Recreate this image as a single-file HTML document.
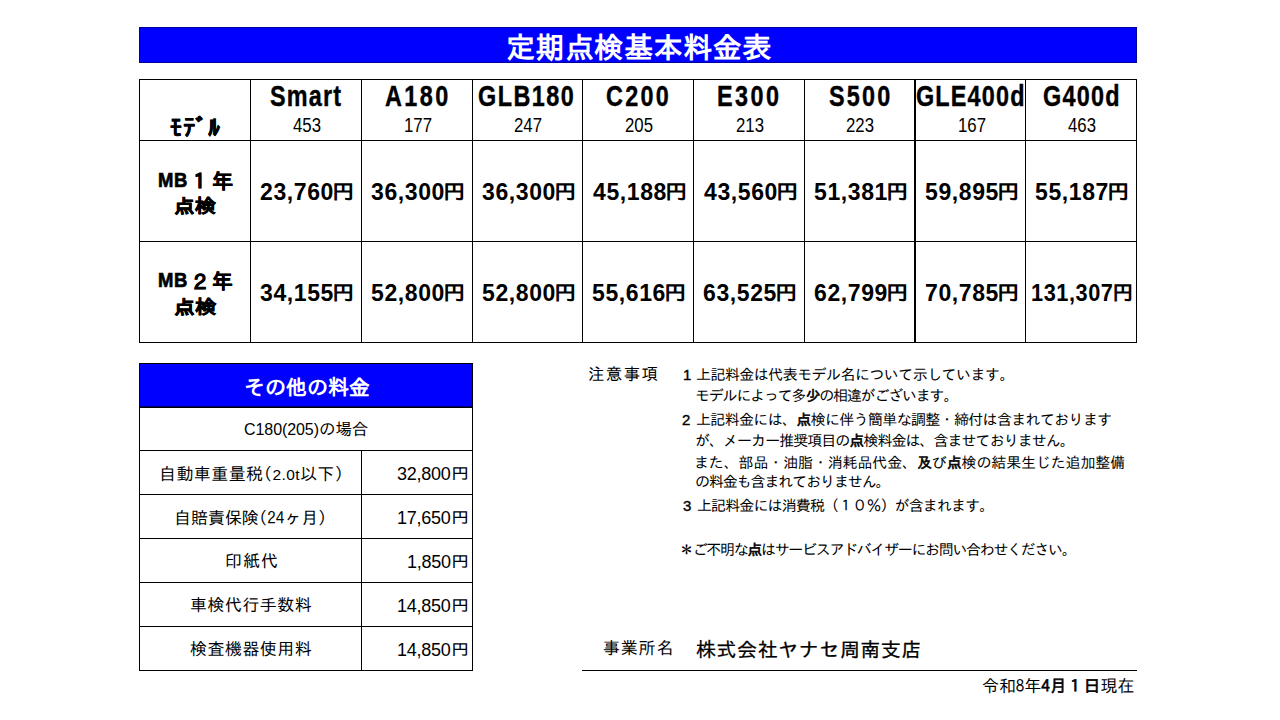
<!DOCTYPE html>
<html lang="ja">
<head>
<meta charset="utf-8">
<title>定期点検基本料金表</title>
<style>
*{margin:0;padding:0;box-sizing:border-box}
html,body{width:1280px;height:720px;background:#fff;overflow:hidden}
body{position:relative;color:#000;font-family:"IPAGothic","Liberation Sans",sans-serif}
.t{position:absolute;white-space:nowrap}
.h{position:absolute;height:1px;background:#000}
.v{position:absolute;width:1px;background:#000}
.bar{position:absolute;background:#0000ff}
</style>
</head>
<body>
<div class="bar" style="left:139px;top:27px;width:998px;height:36px;border:1px solid #00009a"></div>
<div class="h" style="left:139px;top:79px;width:998px"></div>
<div class="h" style="left:139px;top:140px;width:998px"></div>
<div class="h" style="left:139px;top:241px;width:998px"></div>
<div class="h" style="left:139px;top:342px;width:998px"></div>
<div class="v" style="left:139px;top:79px;height:264px"></div>
<div class="v" style="left:250px;top:79px;height:264px"></div>
<div class="v" style="left:361px;top:79px;height:264px"></div>
<div class="v" style="left:472px;top:79px;height:264px"></div>
<div class="v" style="left:582px;top:79px;height:264px"></div>
<div class="v" style="left:693px;top:79px;height:264px"></div>
<div class="v" style="left:804px;top:79px;height:264px"></div>
<div class="v" style="left:1025px;top:79px;height:264px"></div>
<div class="v" style="left:1136px;top:79px;height:264px"></div>
<div class="v" style="left:914px;top:79px;height:264px;width:2px"></div>
<div class="bar" style="left:139px;top:363px;width:334px;height:44px;border:1px solid #000;border-bottom-color:#000070"></div>
<div class="h" style="left:139px;top:407px;width:334px"></div>
<div class="h" style="left:139px;top:450px;width:334px"></div>
<div class="h" style="left:139px;top:494px;width:334px"></div>
<div class="h" style="left:139px;top:538px;width:334px"></div>
<div class="h" style="left:139px;top:582px;width:334px"></div>
<div class="h" style="left:139px;top:626px;width:334px"></div>
<div class="h" style="left:139px;top:670px;width:334px"></div>
<div class="v" style="left:139px;top:363px;height:308px"></div>
<div class="v" style="left:472px;top:363px;height:308px"></div>
<div class="v" style="left:361px;top:450px;height:221px"></div>
<div class="h" style="left:582px;top:670px;width:555px"></div>
<div class="t" style='left:506px;top:32px;font-family:"IPAGothic","Noto Sans CJK JP",sans-serif;font-weight:bold;font-size:29px;line-height:29px;color:#fff;letter-spacing:0.525px;'>定期点検基本料金表</div>
<div class="t" style='left:270px;top:81px;font-family:"Liberation Sans","IPAGothic",sans-serif;font-weight:bold;font-size:30px;line-height:30px;-webkit-text-stroke:0.4px currentColor;letter-spacing:1.474px;transform:scaleX(0.78);transform-origin:0 0;'>Smart</div>
<div class="t" style='left:385px;top:81px;font-family:"Liberation Sans","IPAGothic",sans-serif;font-weight:bold;font-size:30px;line-height:30px;-webkit-text-stroke:0.4px currentColor;letter-spacing:3.077px;transform:scaleX(0.78);transform-origin:0 0;'>A180</div>
<div class="t" style='left:478px;top:81px;font-family:"Liberation Sans","IPAGothic",sans-serif;font-weight:bold;font-size:30px;line-height:30px;-webkit-text-stroke:0.4px currentColor;letter-spacing:1.897px;transform:scaleX(0.78);transform-origin:0 0;'>GLB180</div>
<div class="t" style='left:606px;top:81px;font-family:"Liberation Sans","IPAGothic",sans-serif;font-weight:bold;font-size:30px;line-height:30px;-webkit-text-stroke:0.4px currentColor;letter-spacing:2.906px;transform:scaleX(0.78);transform-origin:0 0;'>C200</div>
<div class="t" style='left:717px;top:81px;font-family:"Liberation Sans","IPAGothic",sans-serif;font-weight:bold;font-size:30px;line-height:30px;-webkit-text-stroke:0.4px currentColor;letter-spacing:3.162px;transform:scaleX(0.78);transform-origin:0 0;'>E300</div>
<div class="t" style='left:829px;top:81px;font-family:"Liberation Sans","IPAGothic",sans-serif;font-weight:bold;font-size:30px;line-height:30px;-webkit-text-stroke:0.4px currentColor;letter-spacing:2.821px;transform:scaleX(0.78);transform-origin:0 0;'>S500</div>
<div class="t" style='left:916px;top:81px;font-family:"Liberation Sans","IPAGothic",sans-serif;font-weight:bold;font-size:30px;line-height:30px;-webkit-text-stroke:0.4px currentColor;letter-spacing:1.496px;transform:scaleX(0.78);transform-origin:0 0;'>GLE400d</div>
<div class="t" style='left:1043px;top:81px;font-family:"Liberation Sans","IPAGothic",sans-serif;font-weight:bold;font-size:30px;line-height:30px;-webkit-text-stroke:0.4px currentColor;letter-spacing:1.603px;transform:scaleX(0.78);transform-origin:0 0;'>G400d</div>
<div class="t" style='left:293px;top:116px;font-family:"Liberation Sans","IPAGothic",sans-serif;font-size:19.5px;line-height:19px;transform:scaleX(0.86);transform-origin:0 0;'>453</div>
<div class="t" style='left:404px;top:116px;font-family:"Liberation Sans","IPAGothic",sans-serif;font-size:19.5px;line-height:19px;transform:scaleX(0.86);transform-origin:0 0;'>177</div>
<div class="t" style='left:514px;top:116px;font-family:"Liberation Sans","IPAGothic",sans-serif;font-size:19.5px;line-height:19px;transform:scaleX(0.86);transform-origin:0 0;'>247</div>
<div class="t" style='left:625px;top:116px;font-family:"Liberation Sans","IPAGothic",sans-serif;font-size:19.5px;line-height:19px;transform:scaleX(0.86);transform-origin:0 0;'>205</div>
<div class="t" style='left:736px;top:116px;font-family:"Liberation Sans","IPAGothic",sans-serif;font-size:19.5px;line-height:19px;transform:scaleX(0.86);transform-origin:0 0;'>213</div>
<div class="t" style='left:846px;top:116px;font-family:"Liberation Sans","IPAGothic",sans-serif;font-size:19.5px;line-height:19px;transform:scaleX(0.86);transform-origin:0 0;'>223</div>
<div class="t" style='left:958px;top:116px;font-family:"Liberation Sans","IPAGothic",sans-serif;font-size:19.5px;line-height:19px;transform:scaleX(0.86);transform-origin:0 0;'>167</div>
<div class="t" style='left:1068px;top:116px;font-family:"Liberation Sans","IPAGothic",sans-serif;font-size:19.5px;line-height:19px;transform:scaleX(0.86);transform-origin:0 0;'>463</div>
<div class="t" style='left:170px;top:115px;font-family:"IPAGothic","Noto Sans CJK JP",sans-serif;font-weight:bold;font-size:24px;line-height:24px;-webkit-text-stroke:0.2px currentColor;letter-spacing:1.133px;'>ﾓﾃﾞﾙ</div>
<div class="t" style='left:158px;top:169px;font-family:"Liberation Sans","IPAGothic",sans-serif;font-weight:bold;font-size:21px;line-height:21px;-webkit-text-stroke:0.7px currentColor;letter-spacing:0.682px;transform:scaleX(0.88);transform-origin:0 0;'>MB</div>
<div class="t" style='left:158px;top:269px;font-family:"Liberation Sans","IPAGothic",sans-serif;font-weight:bold;font-size:21px;line-height:21px;-webkit-text-stroke:0.7px currentColor;letter-spacing:0.682px;transform:scaleX(0.88);transform-origin:0 0;'>MB</div>
<div class="t" style='left:189px;top:171px;font-family:"IPAGothic","Noto Sans CJK JP",sans-serif;font-weight:bold;font-size:21px;line-height:21px;-webkit-text-stroke:0.5px currentColor;'>１</div>
<div class="t" style='left:190px;top:272px;font-family:"IPAGothic","Noto Sans CJK JP",sans-serif;font-weight:bold;font-size:21px;line-height:21px;-webkit-text-stroke:0.5px currentColor;transform:scaleX(0.9541);transform-origin:0 0;'>２</div>
<div class="t" style='left:212px;top:171px;font-family:"IPAGothic","Noto Sans CJK JP",sans-serif;font-weight:bold;font-size:21px;line-height:21px;-webkit-text-stroke:0.5px currentColor;transform:scaleX(1.0007);transform-origin:0 0;'>年</div>
<div class="t" style='left:212px;top:271px;font-family:"IPAGothic","Noto Sans CJK JP",sans-serif;font-weight:bold;font-size:21px;line-height:21px;-webkit-text-stroke:0.5px currentColor;transform:scaleX(0.9802);transform-origin:0 0;'>年</div>
<div class="t" style='left:174px;top:196px;font-family:"IPAGothic","Noto Sans CJK JP",sans-serif;font-weight:bold;font-size:19px;line-height:19px;-webkit-text-stroke:0.5px currentColor;transform:scaleX(1.1081);transform-origin:0 0;'>点検</div>
<div class="t" style='left:174px;top:297px;font-family:"IPAGothic","Noto Sans CJK JP",sans-serif;font-weight:bold;font-size:19px;line-height:19px;-webkit-text-stroke:0.5px currentColor;transform:scaleX(1.1189);transform-origin:0 0;'>点検</div>
<div class="t" style='left:260px;top:177px;font-weight:bold;font-size:23px;line-height:30px;'><span style="font-family:'Liberation Sans','IPAGothic',sans-serif;letter-spacing:0.6px">23,760</span><span style="font-family:'IPAGothic','Noto Sans CJK JP',sans-serif;font-size:20.5px;display:inline-block;transform:scaleX(1.1);transform-origin:0 100%;margin-left:-1.5px;margin-right:2px;position:relative;top:-1.5px">円</span></div>
<div class="t" style='left:371px;top:177px;font-weight:bold;font-size:23px;line-height:30px;'><span style="font-family:'Liberation Sans','IPAGothic',sans-serif;letter-spacing:0.6px">36,300</span><span style="font-family:'IPAGothic','Noto Sans CJK JP',sans-serif;font-size:20.5px;display:inline-block;transform:scaleX(1.1);transform-origin:0 100%;margin-left:-1.5px;margin-right:2px;position:relative;top:-1.5px">円</span></div>
<div class="t" style='left:482px;top:177px;font-weight:bold;font-size:23px;line-height:30px;'><span style="font-family:'Liberation Sans','IPAGothic',sans-serif;letter-spacing:0.6px">36,300</span><span style="font-family:'IPAGothic','Noto Sans CJK JP',sans-serif;font-size:20.5px;display:inline-block;transform:scaleX(1.1);transform-origin:0 100%;margin-left:-1.5px;margin-right:2px;position:relative;top:-1.5px">円</span></div>
<div class="t" style='left:593px;top:177px;font-weight:bold;font-size:23px;line-height:30px;'><span style="font-family:'Liberation Sans','IPAGothic',sans-serif;letter-spacing:0.6px">45,188</span><span style="font-family:'IPAGothic','Noto Sans CJK JP',sans-serif;font-size:20.5px;display:inline-block;transform:scaleX(1.1);transform-origin:0 100%;margin-left:-1.5px;margin-right:2px;position:relative;top:-1.5px">円</span></div>
<div class="t" style='left:704px;top:177px;font-weight:bold;font-size:23px;line-height:30px;'><span style="font-family:'Liberation Sans','IPAGothic',sans-serif;letter-spacing:0.6px">43,560</span><span style="font-family:'IPAGothic','Noto Sans CJK JP',sans-serif;font-size:20.5px;display:inline-block;transform:scaleX(1.1);transform-origin:0 100%;margin-left:-1.5px;margin-right:2px;position:relative;top:-1.5px">円</span></div>
<div class="t" style='left:814px;top:177px;font-weight:bold;font-size:23px;line-height:30px;'><span style="font-family:'Liberation Sans','IPAGothic',sans-serif;letter-spacing:0.6px">51,381</span><span style="font-family:'IPAGothic','Noto Sans CJK JP',sans-serif;font-size:20.5px;display:inline-block;transform:scaleX(1.1);transform-origin:0 100%;margin-left:-1.5px;margin-right:2px;position:relative;top:-1.5px">円</span></div>
<div class="t" style='left:925px;top:177px;font-weight:bold;font-size:23px;line-height:30px;'><span style="font-family:'Liberation Sans','IPAGothic',sans-serif;letter-spacing:0.6px">59,895</span><span style="font-family:'IPAGothic','Noto Sans CJK JP',sans-serif;font-size:20.5px;display:inline-block;transform:scaleX(1.1);transform-origin:0 100%;margin-left:-1.5px;margin-right:2px;position:relative;top:-1.5px">円</span></div>
<div class="t" style='left:1035px;top:177px;font-weight:bold;font-size:23px;line-height:30px;'><span style="font-family:'Liberation Sans','IPAGothic',sans-serif;letter-spacing:0.6px">55,187</span><span style="font-family:'IPAGothic','Noto Sans CJK JP',sans-serif;font-size:20.5px;display:inline-block;transform:scaleX(1.1);transform-origin:0 100%;margin-left:-1.5px;margin-right:2px;position:relative;top:-1.5px">円</span></div>
<div class="t" style='left:260px;top:278px;font-weight:bold;font-size:23px;line-height:30px;'><span style="font-family:'Liberation Sans','IPAGothic',sans-serif;letter-spacing:0.6px">34,155</span><span style="font-family:'IPAGothic','Noto Sans CJK JP',sans-serif;font-size:20.5px;display:inline-block;transform:scaleX(1.1);transform-origin:0 100%;margin-left:-1.5px;margin-right:2px;position:relative;top:-1.5px">円</span></div>
<div class="t" style='left:371px;top:278px;font-weight:bold;font-size:23px;line-height:30px;'><span style="font-family:'Liberation Sans','IPAGothic',sans-serif;letter-spacing:0.6px">52,800</span><span style="font-family:'IPAGothic','Noto Sans CJK JP',sans-serif;font-size:20.5px;display:inline-block;transform:scaleX(1.1);transform-origin:0 100%;margin-left:-1.5px;margin-right:2px;position:relative;top:-1.5px">円</span></div>
<div class="t" style='left:482px;top:278px;font-weight:bold;font-size:23px;line-height:30px;'><span style="font-family:'Liberation Sans','IPAGothic',sans-serif;letter-spacing:0.6px">52,800</span><span style="font-family:'IPAGothic','Noto Sans CJK JP',sans-serif;font-size:20.5px;display:inline-block;transform:scaleX(1.1);transform-origin:0 100%;margin-left:-1.5px;margin-right:2px;position:relative;top:-1.5px">円</span></div>
<div class="t" style='left:592px;top:278px;font-weight:bold;font-size:23px;line-height:30px;'><span style="font-family:'Liberation Sans','IPAGothic',sans-serif;letter-spacing:0.6px">55,616</span><span style="font-family:'IPAGothic','Noto Sans CJK JP',sans-serif;font-size:20.5px;display:inline-block;transform:scaleX(1.1);transform-origin:0 100%;margin-left:-1.5px;margin-right:2px;position:relative;top:-1.5px">円</span></div>
<div class="t" style='left:703px;top:278px;font-weight:bold;font-size:23px;line-height:30px;'><span style="font-family:'Liberation Sans','IPAGothic',sans-serif;letter-spacing:0.6px">63,525</span><span style="font-family:'IPAGothic','Noto Sans CJK JP',sans-serif;font-size:20.5px;display:inline-block;transform:scaleX(1.1);transform-origin:0 100%;margin-left:-1.5px;margin-right:2px;position:relative;top:-1.5px">円</span></div>
<div class="t" style='left:814px;top:278px;font-weight:bold;font-size:23px;line-height:30px;'><span style="font-family:'Liberation Sans','IPAGothic',sans-serif;letter-spacing:0.6px">62,799</span><span style="font-family:'IPAGothic','Noto Sans CJK JP',sans-serif;font-size:20.5px;display:inline-block;transform:scaleX(1.1);transform-origin:0 100%;margin-left:-1.5px;margin-right:2px;position:relative;top:-1.5px">円</span></div>
<div class="t" style='left:925px;top:278px;font-weight:bold;font-size:23px;line-height:30px;'><span style="font-family:'Liberation Sans','IPAGothic',sans-serif;letter-spacing:0.6px">70,785</span><span style="font-family:'IPAGothic','Noto Sans CJK JP',sans-serif;font-size:20.5px;display:inline-block;transform:scaleX(1.1);transform-origin:0 100%;margin-left:-1.5px;margin-right:2px;position:relative;top:-1.5px">円</span></div>
<div class="t" style='left:1031px;top:278px;font-weight:bold;font-size:23px;line-height:30px;transform:scaleX(0.9448);transform-origin:0 0;'><span style="font-family:'Liberation Sans','IPAGothic',sans-serif;letter-spacing:0.6px">131,307</span><span style="font-family:'IPAGothic','Noto Sans CJK JP',sans-serif;font-size:20.5px;display:inline-block;transform:scaleX(1.1);transform-origin:0 100%;margin-left:-1.5px;margin-right:2px;position:relative;top:-1.5px">円</span></div>
<div class="t" style='left:244px;top:377px;font-family:"IPAGothic","Noto Sans CJK JP",sans-serif;font-weight:bold;font-size:21px;line-height:21px;color:#fff;'>その他の料金</div>
<div class="t" style='left:244px;top:420px;font-family:"IPAGothic","Noto Sans CJK JP",sans-serif;font-size:16.5px;line-height:17px;letter-spacing:-0.073px;'><span style="font-family:'Liberation Sans','IPAGothic',sans-serif;font-size:16px">C180(205)</span>の場合</div>
<div class="t" style='left:159px;top:465px;font-family:"IPAGothic","Noto Sans CJK JP",sans-serif;font-size:17px;line-height:17px;letter-spacing:0.415px;'>自動車重量税(<span style="font-family:'Liberation Sans','IPAGothic',sans-serif;font-size:15.5px">2.0t</span>以下)</div>
<div class="t" style='left:174px;top:509px;font-family:"IPAGothic","Noto Sans CJK JP",sans-serif;font-size:17px;line-height:17px;letter-spacing:-0.04px;'>自賠責保険(24ヶ月)</div>
<div class="t" style='left:225px;top:552px;font-family:"IPAGothic","Noto Sans CJK JP",sans-serif;font-size:17px;line-height:17px;letter-spacing:1.0px;'>印紙代</div>
<div class="t" style='left:190px;top:596px;font-family:"IPAGothic","Noto Sans CJK JP",sans-serif;font-size:17px;line-height:17px;letter-spacing:0.467px;'>車検代行手数料</div>
<div class="t" style='left:190px;top:640px;font-family:"IPAGothic","Noto Sans CJK JP",sans-serif;font-size:17px;line-height:17px;letter-spacing:0.467px;'>検査機器使用料</div>
<div class="t" style='left:397px;top:461px;font-size:18px;line-height:24px;'><span style="font-family:'Liberation Sans','IPAGothic',sans-serif;letter-spacing:-0.25px">32,800</span><span style="font-family:'IPAGothic','Noto Sans CJK JP',sans-serif;font-size:15.5px;display:inline-block;transform:scaleX(1.18);transform-origin:0 100%;margin-left:0.5px;margin-right:2px;position:relative;top:-1.5px">円</span></div>
<div class="t" style='left:397px;top:505px;font-size:18px;line-height:24px;'><span style="font-family:'Liberation Sans','IPAGothic',sans-serif;letter-spacing:-0.25px">17,650</span><span style="font-family:'IPAGothic','Noto Sans CJK JP',sans-serif;font-size:15.5px;display:inline-block;transform:scaleX(1.18);transform-origin:0 100%;margin-left:0.5px;margin-right:2px;position:relative;top:-1.5px">円</span></div>
<div class="t" style='left:407px;top:549px;font-size:18px;line-height:24px;'><span style="font-family:'Liberation Sans','IPAGothic',sans-serif;letter-spacing:-0.25px">1,850</span><span style="font-family:'IPAGothic','Noto Sans CJK JP',sans-serif;font-size:15.5px;display:inline-block;transform:scaleX(1.18);transform-origin:0 100%;margin-left:0.5px;margin-right:2px;position:relative;top:-1.5px">円</span></div>
<div class="t" style='left:397px;top:593px;font-size:18px;line-height:24px;'><span style="font-family:'Liberation Sans','IPAGothic',sans-serif;letter-spacing:-0.25px">14,850</span><span style="font-family:'IPAGothic','Noto Sans CJK JP',sans-serif;font-size:15.5px;display:inline-block;transform:scaleX(1.18);transform-origin:0 100%;margin-left:0.5px;margin-right:2px;position:relative;top:-1.5px">円</span></div>
<div class="t" style='left:397px;top:637px;font-size:18px;line-height:24px;'><span style="font-family:'Liberation Sans','IPAGothic',sans-serif;letter-spacing:-0.25px">14,850</span><span style="font-family:'IPAGothic','Noto Sans CJK JP',sans-serif;font-size:15.5px;display:inline-block;transform:scaleX(1.18);transform-origin:0 100%;margin-left:0.5px;margin-right:2px;position:relative;top:-1.5px">円</span></div>
<div class="t" style='left:588px;top:365px;font-family:"IPAGothic","Noto Sans CJK JP",sans-serif;font-size:16.5px;line-height:17px;letter-spacing:1.333px;'>注意事項</div>
<div class="t" style='left:683px;top:367px;font-family:"Liberation Sans","IPAGothic",sans-serif;font-size:15px;line-height:15px;-webkit-text-stroke:0.4px #000;'>1</div>
<div class="t" style='left:696px;top:367px;font-family:"IPAGothic","Noto Sans CJK JP",sans-serif;font-size:15px;line-height:15px;letter-spacing:-0.552px;'>上記料金は代表モデル名について示しています。</div>
<div class="t" style='left:695px;top:388px;font-family:"IPAGothic","Noto Sans CJK JP",sans-serif;font-size:15px;line-height:15px;letter-spacing:-1.2px;'>モデルによって多<span style="-webkit-text-stroke:0.6px #000">少</span>の相違がございます。</div>
<div class="t" style='left:682px;top:412px;font-family:"Liberation Sans","IPAGothic",sans-serif;font-size:15px;line-height:15px;-webkit-text-stroke:0.4px #000;'>2</div>
<div class="t" style='left:696px;top:412px;font-family:"IPAGothic","Noto Sans CJK JP",sans-serif;font-size:15px;line-height:15px;letter-spacing:-0.671px;'>上記料金には、<span style="-webkit-text-stroke:0.6px #000">点</span>検に伴う簡単な調整・締付は含まれております</div>
<div class="t" style='left:695px;top:433px;font-family:"IPAGothic","Noto Sans CJK JP",sans-serif;font-size:15px;line-height:15px;letter-spacing:-0.969px;'>が、メーカー推奨項目の<span style="-webkit-text-stroke:0.6px #000">点</span>検料金は、含ませておりません。</div>
<div class="t" style='left:694px;top:455px;font-family:"IPAGothic","Noto Sans CJK JP",sans-serif;font-size:15px;line-height:15px;letter-spacing:-0.139px;'>また、部品・油脂・消耗品代金、<span style="-webkit-text-stroke:0.6px #000">及</span>び<span style="-webkit-text-stroke:0.6px #000">点</span>検の結果生じた追加整備</div>
<div class="t" style='left:695px;top:474px;font-family:"IPAGothic","Noto Sans CJK JP",sans-serif;font-size:15px;line-height:15px;letter-spacing:-1.108px;'>の料金も含まれておりません。</div>
<div class="t" style='left:683px;top:498px;font-family:"Liberation Sans","IPAGothic",sans-serif;font-size:15px;line-height:15px;-webkit-text-stroke:0.4px #000;'>3</div>
<div class="t" style='left:697px;top:498px;font-family:"IPAGothic","Noto Sans CJK JP",sans-serif;font-size:15px;line-height:15px;letter-spacing:-0.885px;'>上記料金には消費税（１０％）が含まれます。</div>
<div class="t" style='left:679px;top:542px;font-family:"IPAGothic","Noto Sans CJK JP",sans-serif;font-size:15px;line-height:15px;letter-spacing:-1.329px;'>＊ご不明な<span style="-webkit-text-stroke:0.6px #000">点</span>はサービスアドバイザーにお問い合わせください。</div>
<div class="t" style='left:603px;top:639px;font-family:"IPAGothic","Noto Sans CJK JP",sans-serif;font-size:17px;line-height:17px;letter-spacing:0.8px;'>事業所名</div>
<div class="t" style='left:696px;top:639px;font-family:"IPAGothic","Noto Sans CJK JP",sans-serif;font-size:20px;line-height:20px;-webkit-text-stroke:0.3px #000;letter-spacing:0.56px;'>株式会社ヤナセ周南支店</div>
<div class="t" style='left:982px;top:677px;font-family:"IPAGothic","Noto Sans CJK JP",sans-serif;font-size:17px;line-height:17px;letter-spacing:-0.067px;'>令和8年<span style="-webkit-text-stroke:0.6px #000">4月１日</span>現在</div>
</body>
</html>
